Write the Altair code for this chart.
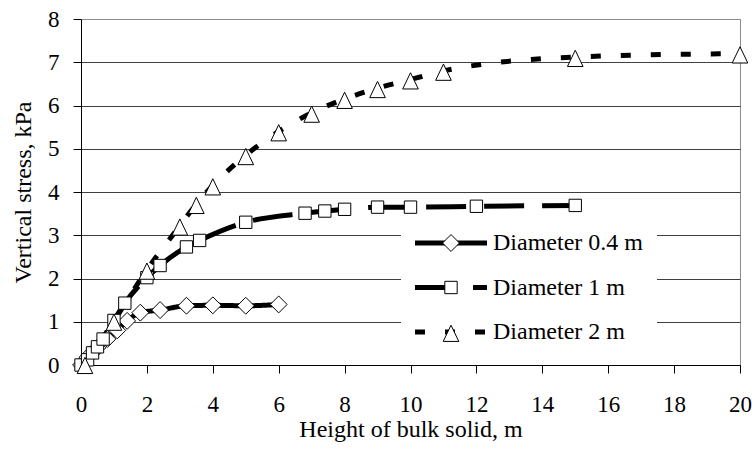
import altair as alt
import pandas as pd

# ---- data ----
series = ["Diameter 0.4 m", "Diameter 1 m", "Diameter 2 m"]

h_04 = [0.0, 0.2, 0.5, 0.8, 1.1, 1.4, 1.8, 2.4, 3.2, 4.0, 5.0, 6.0]
v_04 = [0.0, 0.18, 0.4, 0.6, 0.8, 1.02, 1.21, 1.27, 1.37, 1.38, 1.37, 1.4]

h_1 = [0.0, 0.2, 0.35, 0.5, 0.67, 1.0, 1.33, 2.0, 2.4, 3.2, 3.6, 5.0, 6.8, 7.4, 8.0, 9.0, 10.0, 12.0, 15.0]
v_1 = [0.0, 0.12, 0.28, 0.42, 0.6, 1.03, 1.43, 2.02, 2.3, 2.73, 2.88, 3.3, 3.51, 3.56, 3.6, 3.65, 3.65, 3.67, 3.69]

h_2 = [0.12, 1.0, 2.0, 3.0, 3.5, 4.0, 5.0, 6.0, 7.0, 8.0, 9.0, 10.0, 11.0, 15.0, 20.0]
v_2 = [0.02, 1.02, 2.2, 3.22, 3.72, 4.15, 4.85, 5.4, 5.83, 6.15, 6.4, 6.6, 6.8, 7.12, 7.2]

x_ticks = list(range(0, 21, 2))
y_ticks = list(range(0, 9))

rows = []
for name, hs, vs in zip(series, [h_04, h_1, h_2], [v_04, v_1, v_2]):
    for h, v in zip(hs, vs):
        rows.append({"series": name, "marker": name, "h": h, "v": v})
df = pd.DataFrame(rows)

FONT = "Liberation Serif"
diamond = "M-1.3,0L0,-1.3L1.3,0L0,1.3Z"
square = "M-0.95,-0.95L0.95,-0.95L0.95,0.95L-0.95,0.95Z"
triangle = "M0,-1.05L1.2,1.45L-1.2,1.45Z"
legend_line = "M-1.846,0L9.23,0"

x_enc = alt.X(
    "h:Q",
    scale=alt.Scale(domain=[0, 20], nice=False),
    axis=alt.Axis(values=x_ticks, format="d", title="Height of bulk solid, m",
                  grid=False, labelBaseline="alphabetic", labelPadding=38,
                  labelFlush=False, labelFont=FONT, labelFontSize=23,
                  titleY=71, titleBaseline="alphabetic"),
)
y_enc = alt.Y(
    "v:Q",
    scale=alt.Scale(domain=[0, 8], nice=False),
    axis=alt.Axis(values=y_ticks, format="d", title="Vertical stress, kPa",
                  grid=True, labelPadding=14, labelFlush=False,
                  labelFont=FONT, labelFontSize=23,
                  gridColor={"condition": {"test": "datum.value === 8", "value": "#8c8c8c"},
                             "value": "#404040"},
                  titleX=-58, titleY=173, titleAngle=-90, titleAlign="center",
                  titleBaseline="middle"),
)

lines = alt.Chart(df).mark_line(
    interpolate="monotone", color="black", strokeWidth=5, strokeCap="butt"
).encode(
    x=x_enc,
    y=y_enc,
    strokeDash=alt.StrokeDash(
        "series:N",
        scale=alt.Scale(domain=series, range=[[1, 0], [40, 18], [10, 20]]),
        legend=alt.Legend(
            title=None, orient="none", legendX=320, legendY=198, zindex=1,
            symbolType=legend_line, symbolSize=169, symbolStrokeWidth=5,
            symbolStrokeColor="black", symbolFillColor="transparent",
            labelFont=FONT, labelFontSize=24,
            labelColor="black", labelOffset=54, padding=14, rowPadding=20.5,
            fillColor="white",
        ),
    ),
)


def marker_legend():
    return alt.Legend(
        title=None, orient="none", legendX=344, legendY=198, zindex=2,
        symbolFillColor="white", symbolStrokeColor="black",
        symbolStrokeWidth=1, symbolSize=169, symbolOpacity=1,
        labelFont=FONT, labelFontSize=24, labelExpr="' '",
        labelOffset=0, padding=14, rowPadding=20.5,
    )


points = alt.Chart(df).mark_point(
    filled=True, fill="white", strokeWidth=1, size=169, opacity=1
).encode(
    x=x_enc,
    y=y_enc,
    shape=alt.Shape(
        "marker:N", sort="ascending",
        scale=alt.Scale(range=[diamond, square, triangle]),
        legend=marker_legend(),
    ),
    stroke=alt.Stroke(
        "marker:N", sort="ascending",
        scale=alt.Scale(range=["black", "black", "black"]),
        legend=marker_legend(),
    ),
)

chart = alt.layer(lines, points).properties(
    width=659, height=346,
    padding={"left": 81, "top": 19, "right": 12, "bottom": 85},
    autosize=alt.AutoSizeParams(type="none"),
).configure(font=FONT).configure_view(
    stroke="#8c8c8c", strokeWidth=1
).configure_axis(
    domainColor="black", domainWidth=1, tickColor="black", tickSize=8, tickWidth=1,
    labelFont=FONT, labelFontSize=23, labelColor="black",
    titleFont=FONT, titleFontSize=24, titleFontWeight="normal", titleColor="black",
)

chart.save("out.html", embed_options={"renderer": "svg", "actions": False})
